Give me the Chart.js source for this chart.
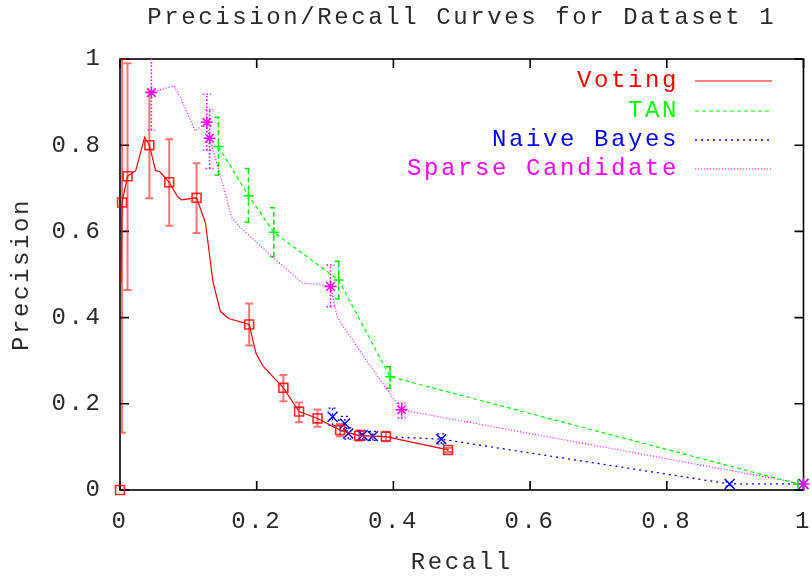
<!DOCTYPE html>
<html>
<head>
<meta charset="utf-8">
<script src="https://cdn.jsdelivr.net/npm/chart.js@4.4.1/dist/chart.umd.min.js"></script>
<style>
html, body { margin: 0; padding: 0; background: #fff; }
</style>
</head>
<body>
<canvas id="box" width="812" height="581"></canvas>
<script>
// Voting: averaged curve, plus the points that carry error bars
var votingCurveX = [0.0015, 0.003, 0.011, 0.023, 0.036, 0.043, 0.052, 0.058, 0.072, 0.084, 0.090, 0.112, 0.125, 0.136, 0.147, 0.159, 0.189, 0.199, 0.209, 0.239, 0.262, 0.289, 0.322, 0.350, 0.389, 0.480];
var votingCurveY = [0.48, 0.667, 0.728, 0.741, 0.818, 0.800, 0.741, 0.739, 0.714, 0.681, 0.673, 0.678, 0.620, 0.483, 0.414, 0.398, 0.384, 0.317, 0.288, 0.237, 0.182, 0.166, 0.139, 0.126, 0.124, 0.093];
var votingX    = [0, 0.003, 0.011, 0.043, 0.072, 0.112, 0.189, 0.239, 0.262, 0.289, 0.322, 0.350, 0.389, 0.480];
var votingY    = [0, 0.667, 0.728, 0.800, 0.714, 0.678, 0.384, 0.237, 0.182, 0.166, 0.139, 0.126, 0.124, 0.093];
var votingLow  = [0, 0.133, 0.464, 0.677, 0.613, 0.596, 0.335, 0.206, 0.157, 0.147, 0.125, 0.114, 0.113, 0.088];
var votingHigh = [0, 1.000, 0.990, 0.923, 0.814, 0.758, 0.433, 0.267, 0.203, 0.187, 0.153, 0.138, 0.135, 0.098];

// TAN
var tanX    = [0.144, 0.188, 0.225, 0.320, 0.395, 0.992];
var tanY    = [0.797, 0.683, 0.598, 0.487, 0.263, 0.014];
var tanLow  = [0.731, 0.621, 0.541, 0.443, 0.236, 0.014];
var tanHigh = [0.865, 0.746, 0.655, 0.531, 0.286, 0.014];

// Naive Bayes
var nbX    = [0.311, 0.329, 0.334, 0.355, 0.370, 0.470, 0.892, 1.0];
var nbY    = [0.170, 0.154, 0.131, 0.127, 0.125, 0.118, 0.014, 0.014];
var nbLow  = [0.150, 0.137, 0.118, 0.116, 0.115, 0.107, 0.009, 0.014];
var nbHigh = [0.190, 0.171, 0.144, 0.138, 0.136, 0.130, 0.019, 0.014];

// Sparse Candidate
var scCurveX = [0.046, 0.079, 0.090, 0.110, 0.127, 0.131, 0.146, 0.163, 0.175, 0.228, 0.267, 0.292, 0.308, 0.318, 0.360, 0.412, 1.0];
var scCurveY = [0.922, 0.938, 0.905, 0.833, 0.853, 0.816, 0.735, 0.634, 0.611, 0.534, 0.480, 0.477, 0.472, 0.400, 0.302, 0.186, 0.014];
var scX    = [0.046, 0.127, 0.131, 0.308, 0.412, 1.0];
var scY    = [0.922, 0.853, 0.816, 0.472, 0.186, 0.014];
var scLow  = [0.835, 0.789, 0.746, 0.425, 0.167, 0.014];
var scHigh = [1.050, 0.918, 0.882, 0.522, 0.201, 0.014];

var axisTicks = [0, 0.2, 0.4, 0.6, 0.8, 1];
var axisLabels = ['0', '0.2', '0.4', '0.6', '0.8', '1'];

var FONT = 'Liberation Mono';
var SPACING = '2.6px';
var TEXT = '#2a2a2a';

function pts(xs, ys) {
    return xs.map(function (x, i) { return { x: x, y: ys[i] }; });
}

var datasets = [
    {
        label: 'Voting', data: pts(votingCurveX, votingCurveY), showLine: true,
        borderColor: '#ff0000', borderWidth: 1.2, pointRadius: 0, legend: true
    },
    {
        data: pts(votingX, votingY), showLine: false, pointStyle: 'rect', pointRadius: 6.3,
        borderColor: 'rgba(255,0,0,0.85)', backgroundColor: 'transparent', pointBorderWidth: 1.6,
        errLow: votingLow, errHigh: votingHigh, errColor: 'rgba(255,0,0,0.55)', errWidth: 2, errDash: [], clip: false
    },
    {
        label: 'TAN', data: pts(tanX, tanY), showLine: true, borderDash: [4, 3],
        borderColor: '#00ff00', borderWidth: 1.2, pointStyle: 'cross', pointRadius: 5,
        pointBorderWidth: 1.5, backgroundColor: 'transparent', legend: true,
        errLow: tanLow, errHigh: tanHigh, errColor: '#00ee00', errWidth: 1.5, errDash: [5, 3], clip: false
    },
    {
        label: 'Naive Bayes', data: pts(nbX, nbY), showLine: true, borderDash: [2, 4],
        borderColor: '#0000ff', borderWidth: 1.3, pointStyle: 'crossRot', pointRadius: 7,
        pointBorderWidth: 1.5, backgroundColor: 'transparent', legend: true,
        errLow: nbLow, errHigh: nbHigh, errColor: '#0000ff', errWidth: 1.3, errDash: [2, 3], clip: false
    },
    {
        label: 'Sparse Candidate', data: pts(scCurveX, scCurveY), showLine: true, borderDash: [1, 2],
        borderColor: '#ff00ff', borderWidth: 1.2, pointRadius: 0, legend: true
    },
    {
        data: pts(scX, scY), showLine: false, pointStyle: 'star', pointRadius: 6,
        borderColor: '#ff00ff', backgroundColor: 'transparent', pointBorderWidth: 1.5, order: -1,
        errLow: scLow, errHigh: scHigh, errColor: '#ff00ff', errWidth: 1.5, errDash: [1.5, 2], clip: false
    }
];

// border box with inward ticks on all four sides, gnuplot style
var framePlugin = {
    id: 'frame',
    beforeDraw: function (chart) {
        chart.ctx.letterSpacing = SPACING;
    },
    beforeDatasetsDraw: function (chart) {
        var ctx = chart.ctx, a = chart.chartArea;
        var xs = chart.scales.x, ys = chart.scales.y;
        ctx.save();
        ctx.strokeStyle = '#000';
        ctx.lineWidth = 1.6;
        ctx.strokeRect(a.left, a.top, a.right - a.left, a.bottom - a.top);
        ctx.beginPath();
        xs.ticks.forEach(function (t) {
            var px = xs.getPixelForValue(t.value);
            ctx.moveTo(px, a.bottom); ctx.lineTo(px, a.bottom - 9);
            ctx.moveTo(px, a.top); ctx.lineTo(px, a.top + 9);
        });
        ys.ticks.forEach(function (t) {
            var py = ys.getPixelForValue(t.value);
            ctx.moveTo(a.left, py); ctx.lineTo(a.left + 9, py);
            ctx.moveTo(a.right, py); ctx.lineTo(a.right - 9, py);
        });
        ctx.stroke();

        // error bars
        ctx.beginPath();
        ctx.rect(a.left - 1, a.top - 1, a.right - a.left + 2, a.bottom - a.top + 2);
        ctx.clip();
        chart.data.datasets.forEach(function (ds) {
            if (!ds.errLow) return;
            ctx.strokeStyle = ds.errColor;
            ctx.lineWidth = ds.errWidth;
            ctx.setLineDash(ds.errDash);
            ds.data.forEach(function (p, i) {
                if (ds.errHigh[i] - ds.errLow[i] < 0.002) return;
                var px = xs.getPixelForValue(p.x);
                var lo = ys.getPixelForValue(ds.errLow[i]);
                var hi = ys.getPixelForValue(ds.errHigh[i]);
                ctx.beginPath();
                ctx.moveTo(px, lo); ctx.lineTo(px, hi);
                ctx.moveTo(px - 4, lo); ctx.lineTo(px + 4, lo);
                ctx.moveTo(px - 4, hi); ctx.lineTo(px + 4, hi);
                ctx.stroke();
            });
        });
        ctx.restore();
    },
    afterDraw: function (chart) {
        // key in the upper right, text before the sample line
        var ctx = chart.ctx;
        var rows = [81, 111, 140, 169];
        var n = 0;
        ctx.save();
        ctx.letterSpacing = SPACING;
        ctx.font = '24px "' + FONT + '"';
        ctx.textAlign = 'right';
        ctx.textBaseline = 'middle';
        chart.data.datasets.forEach(function (ds) {
            if (!ds.legend) return;
            var y = rows[n++];
            ctx.fillStyle = ds.borderColor;
            ctx.fillText(ds.label, 679, y);
            ctx.strokeStyle = ds.borderColor;
            ctx.lineWidth = ds.borderWidth;
            ctx.setLineDash(ds.borderDash || []);
            ctx.beginPath();
            ctx.moveTo(695, y); ctx.lineTo(772, y);
            ctx.stroke();
        });
        ctx.restore();
    }
};

var tickFont = { family: FONT, size: 24 };

function tickLabel(value) {
    var i = axisTicks.indexOf(value);
    return i >= 0 ? axisLabels[i] : '';
}

var mychart = new Chart('box', {
    type: 'scatter',
    data: { datasets: datasets },
    options: {
        responsive: false,
        animation: false,
        layout: { padding: { top: 0, right: 6, bottom: 0, left: 0 } },
        plugins: {
            legend: { display: false },
            tooltip: { enabled: false },
            title: {
                display: true,
                text: 'Precision/Recall Curves for Dataset 1',
                fullSize: false,
                color: TEXT,
                font: { family: FONT, size: 24, weight: 'normal' },
                padding: { top: 3.6, bottom: 26.6 }
            }
        },
        scales: {
            x: {
                type: 'linear', min: 0, max: 1,
                afterBuildTicks: function (s) { s.ticks = axisTicks.map(function (v) { return { value: v }; }); },
                afterFit: function (s) { s.height = 91; s.paddingLeft = 0; s.paddingRight = 0; },
                grid: { display: false, drawTicks: false },
                border: { display: false },
                ticks: { font: tickFont, color: TEXT, padding: 17.6, maxRotation: 0, callback: tickLabel },
                title: { display: true, text: 'Recall', color: TEXT, font: tickFont, padding: { top: 0, bottom: 3.6 } }
            },
            y: {
                type: 'linear', min: 0, max: 1,
                afterBuildTicks: function (s) { s.ticks = axisTicks.map(function (v) { return { value: v }; }); },
                afterFit: function (s) { s.width = 120; s.paddingTop = 0; s.paddingBottom = 0; },
                grid: { display: false, drawTicks: false },
                border: { display: false },
                ticks: { font: tickFont, color: TEXT, padding: 17.4, callback: tickLabel },
                title: { display: true, text: 'Precision', color: TEXT, font: tickFont, padding: { top: 7.6, bottom: 0 } }
            }
        }
    },
    plugins: [framePlugin]
});
</script>
</body>
</html>
